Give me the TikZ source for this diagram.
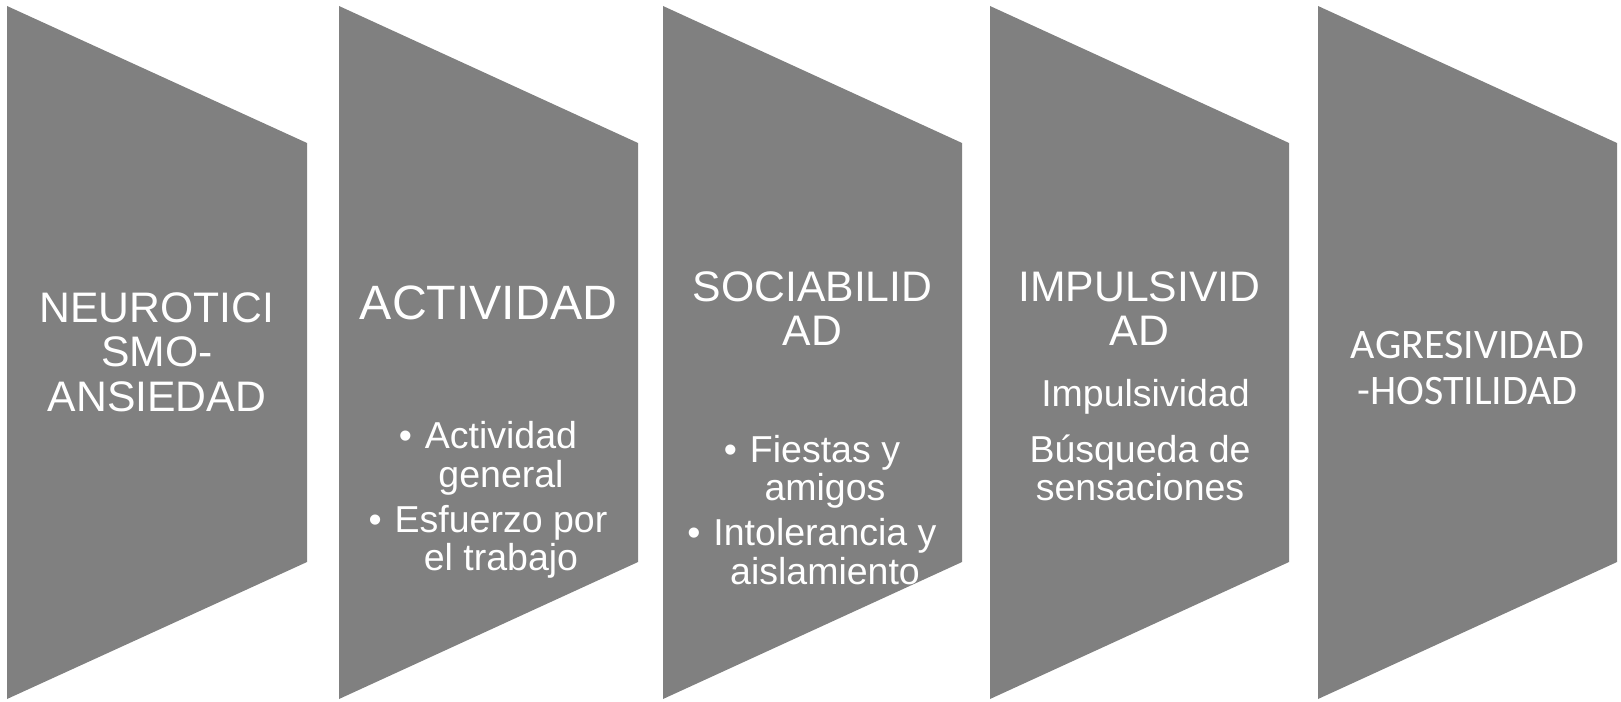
\documentclass[tikz,border=0pt]{standalone}
\usepackage{fontspec}
\setmainfont{Liberation Sans}
\newfontfamily\calibri{Carlito}
\definecolor{gris}{RGB}{128,128,128}
\begin{document}
\begin{tikzpicture}[x=1pt,y=-1pt,line join=round]
    \tikzset{bloque/.style={fill=gris,draw=none},
             texto/.style={text=white,inner sep=0pt,align=center,anchor=north},
             titulo/.style={texto,font=\fontsize{42.7}{44.6}\selectfont},
             lista/.style={texto,font=\fontsize{37.5}{38.3}\selectfont}}
    \def \vinieta{\llap{•\hspace{13pt}}}
    \useasboundingbox (0,0) rectangle (1621,701);
    % bloques
    \foreach \izq/\der in {7/307,339/638,663/962,990/1289,1318/1617}
        \fill[bloque] (\izq,6) -- (\der,143) -- (\der,562) -- (\izq,699) -- cycle;
    % textos
    \node[titulo] (neuro) at (157,292.3) {NEUROTICI\\SMO-\\ANSIEDAD};
    \node[texto,font=\fontsize{48.2}{50}\selectfont] (activ) at (488.5,285.5) {ACTIVIDAD};
    \node[lista] (activlista) at (501,421.5) {\vinieta Actividad\\general\\[7pt]\vinieta Esfuerzo por\\el trabajo};
    \node[titulo] (socia) at (812.5,271) {SOCIABILID\\AD};
    \node[lista] (socialista) at (825,434.9) {\vinieta Fiestas y\\amigos\\[7pt]\vinieta Intolerancia y\\aislamiento};
    \node[titulo] (impul) at (1139.5,271) {IMPULSIVID\\AD};
    \node[lista] (impulsub) at (1145.5,379.5) {Impulsividad};
    \node[lista] (busq) at (1140,434.5) {Búsqueda de\\sensaciones};
    \node[texto,font=\calibri\fontsize{42}{46.5}\selectfont] (agres) at (1467.5,331) {AGRESIVIDAD\\-HOSTILIDAD};
\end{tikzpicture}
\end{document}
